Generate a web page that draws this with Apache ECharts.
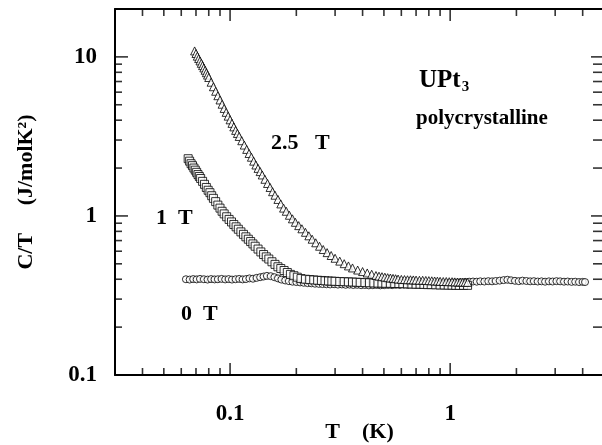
<!DOCTYPE html>
<html>
<head>
<meta charset="utf-8">
<script src="https://cdn.jsdelivr.net/npm/echarts@6/dist/echarts.min.js"></script>
<style>
  html, body { margin: 0; padding: 0; background: #fff; }
  #chart { width: 602px; height: 445px; }
</style>
</head>
<body>
<div id="chart"></div>
<script>
// UPt3 polycrystalline, C/T vs T (log-log)

// 0 T (circles)
const t0 = [
  0.063, 0.0655, 0.068, 0.0705, 0.073, 0.076, 0.079, 0.082, 0.085, 0.088,
  0.0915, 0.095, 0.0985, 0.102, 0.106, 0.110, 0.114, 0.118, 0.1225, 0.127,
  0.132, 0.137, 0.142, 0.147, 0.153, 0.159, 0.165, 0.171, 0.178, 0.185,
  0.192, 0.200, 0.208, 0.216, 0.225, 0.234, 0.243, 0.253, 0.263, 0.274,
  0.285, 0.297, 0.309, 0.322, 0.335, 0.349, 0.363, 0.378, 0.394, 0.410,
  0.427, 0.445, 0.463, 0.482, 0.502, 0.523, 0.545, 0.567, 0.590, 0.615,
  0.640, 0.667, 0.695, 0.724, 0.754, 0.785, 0.817, 0.850, 0.885, 0.920,
  0.960, 1.00, 1.04, 1.08, 1.12, 1.17, 1.22, 1.27, 1.32, 1.37,
  1.43, 1.49, 1.55, 1.61, 1.68, 1.75, 1.82, 1.89, 1.97, 2.05,
  2.13, 2.22, 2.31, 2.40, 2.50, 2.60, 2.70, 2.81, 2.92, 3.04,
  3.16, 3.29, 3.42, 3.56, 3.70, 3.85, 4.00, 4.10
];
const c0 = [
  0.400, 0.398, 0.401, 0.399, 0.402, 0.400, 0.398, 0.401, 0.399, 0.400,
  0.402, 0.399, 0.401, 0.398, 0.400, 0.402, 0.399, 0.401, 0.405, 0.403,
  0.408, 0.412, 0.416, 0.420, 0.418, 0.412, 0.405, 0.398, 0.393, 0.389,
  0.386, 0.384, 0.382, 0.380, 0.378, 0.377, 0.375, 0.374, 0.373, 0.372,
  0.371, 0.372, 0.370, 0.371, 0.369, 0.370, 0.368, 0.369, 0.367, 0.368,
  0.366, 0.367, 0.368, 0.366, 0.367, 0.368, 0.367, 0.369, 0.368, 0.370,
  0.369, 0.371, 0.370, 0.372, 0.371, 0.373, 0.372, 0.374, 0.375, 0.376,
  0.378, 0.379, 0.381, 0.382, 0.383, 0.385, 0.386, 0.387, 0.386, 0.388,
  0.387, 0.389, 0.388, 0.390, 0.392, 0.395, 0.397, 0.394, 0.391, 0.389,
  0.392, 0.390, 0.388, 0.389, 0.387, 0.388, 0.386, 0.388, 0.387, 0.389,
  0.388, 0.386, 0.387, 0.385, 0.386, 0.384, 0.385, 0.384
];

// 1 T (squares)
const t1 = [
  0.0645, 0.0655, 0.0665, 0.0675, 0.0685, 0.0695, 0.0705, 0.0715, 0.0725, 0.0735,
  0.075, 0.0765, 0.078, 0.0795, 0.081, 0.0825,
  0.084, 0.086, 0.088, 0.090, 0.092, 0.094,
  0.0965, 0.099, 0.1015, 0.104, 0.1065, 0.109,
  0.112, 0.115, 0.118, 0.121, 0.124, 0.127, 0.130,
  0.134, 0.138, 0.142, 0.146, 0.150,
  0.155, 0.160, 0.165, 0.170,
  0.176, 0.182, 0.188, 0.195, 0.202, 0.210,
  0.220, 0.230, 0.240, 0.250, 0.260, 0.270, 0.280, 0.290, 0.300,
  0.315, 0.330, 0.345, 0.360, 0.375, 0.390,
  0.410, 0.430, 0.450, 0.470, 0.490, 0.510,
  0.535, 0.560, 0.585, 0.610,
  0.640, 0.670, 0.700, 0.730, 0.760, 0.790, 0.820,
  0.860, 0.900, 0.940, 0.980, 1.02, 1.06, 1.10,
  1.15, 1.20
];
const c1 = [
  2.29, 2.21, 2.13, 2.07, 2.00, 1.94, 1.88, 1.82, 1.77, 1.72,
  1.65, 1.58, 1.51, 1.45, 1.40, 1.34,
  1.29, 1.23, 1.17, 1.12, 1.07, 1.03,
  0.988, 0.951, 0.917, 0.884, 0.854, 0.825,
  0.794, 0.766, 0.739, 0.714, 0.690, 0.667, 0.645,
  0.619, 0.594, 0.572, 0.553, 0.536,
  0.515, 0.496, 0.479, 0.467,
  0.454, 0.441, 0.429, 0.421, 0.412, 0.404,
  0.400, 0.398, 0.396, 0.394, 0.393, 0.391, 0.390, 0.389, 0.388,
  0.387, 0.386, 0.385, 0.384, 0.383, 0.382,
  0.381, 0.380, 0.379, 0.378, 0.378, 0.377,
  0.377, 0.376, 0.376, 0.375,
  0.374, 0.373, 0.372, 0.372, 0.371, 0.370, 0.370,
  0.369, 0.368, 0.368, 0.367, 0.367, 0.366, 0.366,
  0.366, 0.366
];

// 2.5 T (triangles)
const t25 = [
  0.069, 0.070, 0.071, 0.072, 0.073, 0.074, 0.075, 0.076, 0.077, 0.078, 0.079, 0.080,
  0.082, 0.084, 0.086, 0.088, 0.090, 0.092, 0.094, 0.096, 0.098, 0.100, 0.102, 0.104, 0.106, 0.108, 0.110,
  0.113, 0.116, 0.119, 0.122, 0.125, 0.128, 0.131, 0.134, 0.137, 0.140,
  0.144, 0.148, 0.152, 0.156, 0.160,
  0.165, 0.170, 0.175, 0.180,
  0.186, 0.192, 0.198,
  0.205, 0.212, 0.220, 0.228, 0.236, 0.245, 0.255, 0.265, 0.276, 0.288, 0.300,
  0.315, 0.330, 0.345, 0.360,
  0.380, 0.400, 0.420, 0.440, 0.460,
  0.475, 0.490, 0.505, 0.520, 0.535, 0.550, 0.565, 0.580,
  0.600, 0.620, 0.640, 0.660, 0.680, 0.700,
  0.725, 0.750, 0.775, 0.800, 0.825, 0.850, 0.875, 0.900,
  0.930, 0.960, 0.990,
  1.02, 1.05, 1.08, 1.11, 1.14, 1.17, 1.20
];
const c25 = [
  10.9, 10.5, 10.1, 9.76, 9.43, 9.11, 8.81, 8.52, 8.24, 7.95, 7.68, 7.42,
  6.93, 6.49, 6.08, 5.70, 5.36, 5.04, 4.74, 4.48, 4.24, 4.02, 3.82, 3.63, 3.45, 3.30, 3.16,
  2.97, 2.79, 2.62, 2.47, 2.34, 2.21, 2.09, 1.99, 1.90, 1.81,
  1.70, 1.60, 1.51, 1.42, 1.35,
  1.27, 1.19, 1.12, 1.07,
  1.01, 0.959, 0.912,
  0.869, 0.830, 0.789, 0.750, 0.714, 0.678, 0.645, 0.615, 0.588, 0.564, 0.542,
  0.520, 0.501, 0.485, 0.471,
  0.457, 0.447, 0.438, 0.430, 0.422,
  0.418, 0.415, 0.412, 0.409, 0.407, 0.405, 0.403, 0.401,
  0.399, 0.398, 0.397, 0.397, 0.396, 0.395,
  0.394, 0.394, 0.393, 0.392, 0.391, 0.390, 0.389, 0.388,
  0.387, 0.387, 0.386,
  0.386, 0.385, 0.384, 0.384, 0.383, 0.383, 0.382
];

// axis ticks / labels
const xMajorTicks = [0.1, 1];
const xMinorTicks = [0.04, 0.05, 0.06, 0.07, 0.08, 0.09, 0.2, 0.3, 0.4, 0.5, 0.6, 0.7, 0.8, 0.9, 2, 3, 4];
const yMajorTicks = [1, 10];
const yMinorTicks = [0.2, 0.3, 0.4, 0.5, 0.6, 0.7, 0.8, 0.9, 2, 3, 4, 5, 6, 7, 8, 9];
const xTickLabels = [0.1, 1];
const yTickLabels = [0.1, 1, 10];

const X_MIN = 0.03, X_MAX = 5;
const Y_MIN = 0.1, Y_MAX = 20;
const FONT = '"Liberation Serif", "DejaVu Serif", serif';

function pairs(ts, cs) {
  return ts.map((t, i) => [t, cs[i]]);
}

function labelFor(list) {
  return function (v) {
    for (let i = 0; i < list.length; i++) {
      if (Math.abs(Math.log10(v) - Math.log10(list[i])) < 1e-6) {
        return String(list[i]);
      }
    }
    return '';
  };
}

// inward tick marks, drawn as thin rect symbols sitting on the frame
function tickMarks(values, side, len) {
  const w = 1.6;
  let data, size, offset;
  if (side === 'bottom') {
    data = values.map(v => [v, Y_MIN]); size = [w, len]; offset = [0, -len / 2];
  } else if (side === 'top') {
    data = values.map(v => [v, Y_MAX]); size = [w, len]; offset = [0, len / 2];
  } else if (side === 'left') {
    data = values.map(v => [X_MIN, v]); size = [len, w]; offset = [len / 2, 0];
  } else {
    data = values.map(v => [X_MAX, v]); size = [len, w]; offset = [-len / 2, 0];
  }
  return {
    type: 'scatter', data: data, silent: true, clip: false, z: 5,
    symbol: 'rect', symbolSize: size, symbolOffset: offset,
    itemStyle: { color: '#000' }
  };
}

function markerStyle() {
  return { color: '#fff', borderColor: '#000', borderWidth: 1 };
}

const chart = echarts.init(document.getElementById('chart'), null, { renderer: 'canvas' });

const axisLine = { show: true, lineStyle: { color: '#000', width: 2 } };
const labelFont = { color: '#000', fontFamily: FONT, fontWeight: 'bold', fontSize: 23 };

chart.setOption({
  animation: false,
  backgroundColor: '#fff',
  grid: { left: 115, top: 9, width: 489, height: 366, outerBoundsMode: 'none', containLabel: false },
  xAxis: [{
    type: 'log', min: X_MIN, max: X_MAX, position: 'bottom',
    axisLine: axisLine, axisTick: { show: false }, splitLine: { show: false },
    axisLabel: Object.assign({
      formatter: labelFor(xTickLabels), margin: 28,
      showMinLabel: true, showMaxLabel: true
    }, labelFont),
    name: 'T    (K)', nameLocation: 'middle', nameGap: 46, nameMoveOverlap: false,
    nameTextStyle: { color: '#000', fontFamily: FONT, fontWeight: 'bold', fontSize: 22 }
  }, {
    type: 'log', min: X_MIN, max: X_MAX, position: 'top',
    axisLine: axisLine, axisTick: { show: false }, axisLabel: { show: false }, splitLine: { show: false }
  }],
  yAxis: [{
    type: 'log', min: Y_MIN, max: Y_MAX, position: 'left',
    axisLine: axisLine, axisTick: { show: false }, splitLine: { show: false },
    axisLabel: Object.assign({
      formatter: labelFor(yTickLabels), margin: 18, padding: [9, 0, 0, 0],
      showMinLabel: true, showMaxLabel: true
    }, labelFont),
    name: 'C/T     (J/molK²)', nameLocation: 'middle', nameGap: 78, nameMoveOverlap: false,
    nameTextStyle: { color: '#000', fontFamily: FONT, fontWeight: 'bold', fontSize: 22 }
  }, {
    type: 'log', min: Y_MIN, max: Y_MAX, position: 'right',
    axisLine: { show: false }, axisTick: { show: false }, axisLabel: { show: false }, splitLine: { show: false }
  }],
  series: [
    tickMarks(xMajorTicks, 'bottom', 12),
    tickMarks(xMinorTicks, 'bottom', 7),
    tickMarks(xMajorTicks, 'top', 12),
    tickMarks(xMinorTicks, 'top', 7),
    tickMarks(yMajorTicks, 'left', 13),
    tickMarks(yMinorTicks, 'left', 7),
    tickMarks(yMajorTicks, 'right', 13),
    tickMarks(yMinorTicks, 'right', 11),
    {
      name: '0 T', type: 'scatter', data: pairs(t0, c0), z: 2,
      symbol: 'circle', symbolSize: 7, itemStyle: markerStyle()
    },
    {
      name: '1 T', type: 'scatter', data: pairs(t1, c1), z: 3,
      symbol: 'rect', symbolSize: 8, itemStyle: markerStyle()
    },
    {
      name: '2.5 T', type: 'scatter', data: pairs(t25, c25), z: 4,
      symbol: 'triangle', symbolSize: 8, itemStyle: markerStyle()
    }
  ],
  graphic: [
    { type: 'text', left: 271, top: 132, style: { text: '2.5   T', font: 'bold 22px ' + FONT, fill: '#000' } },
    { type: 'text', left: 156, top: 207, style: { text: '1  T', font: 'bold 22px ' + FONT, fill: '#000' } },
    { type: 'text', left: 181, top: 303, style: { text: '0  T', font: 'bold 22px ' + FONT, fill: '#000' } },
    {
      type: 'text', left: 419, top: 68,
      style: {
        text: '{a|UPt}{b|3}',
        rich: {
          a: { font: 'bold 25px ' + FONT, fill: '#000' },
          b: { font: 'bold 15px ' + FONT, fill: '#000', padding: [14, 0, 0, 1] }
        }
      }
    },
    { type: 'text', left: 416, top: 108, style: { text: 'polycrystalline', font: 'bold 21px ' + FONT, fill: '#000' } }
  ]
});
</script>
</body>
</html>
